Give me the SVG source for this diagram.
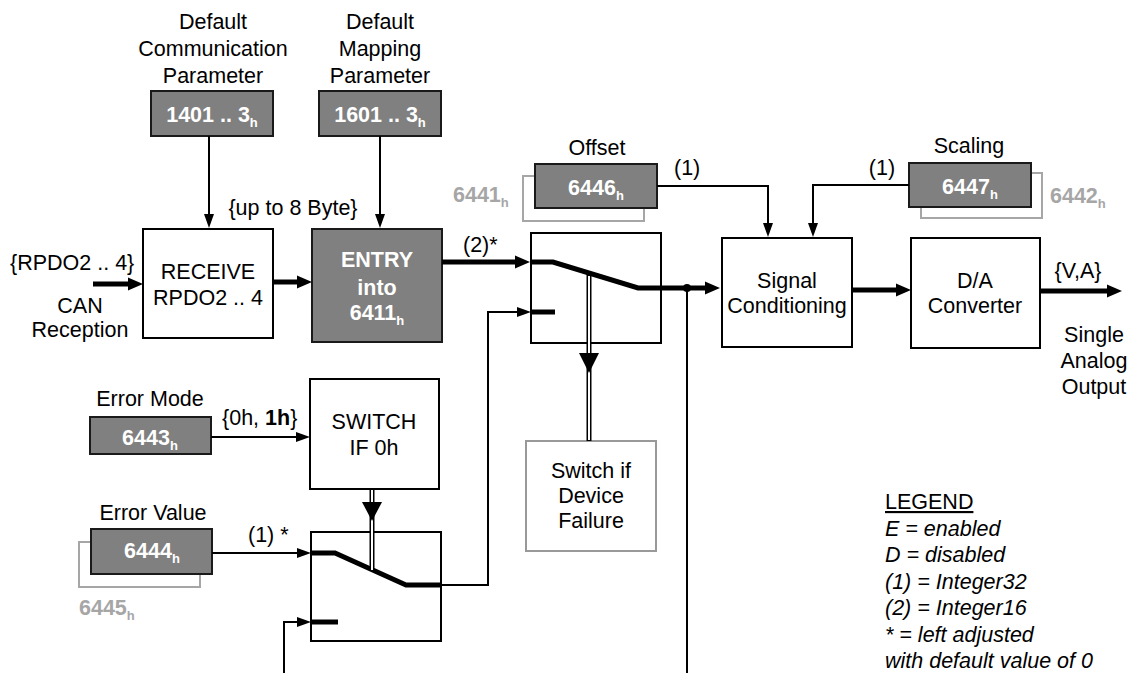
<svg xmlns="http://www.w3.org/2000/svg" width="1131" height="673" viewBox="0 0 1131 673">
<style>
text{font-family:"Liberation Sans",Arial,sans-serif;font-size:21.5px;fill:#000}
.c{text-anchor:middle}
.w{fill:#fff;font-weight:bold}
.g{fill:#a6a6a6;font-weight:bold}
.it{font-style:italic}
.box{fill:#fff;stroke:#000;stroke-width:2}
.gbox{fill:#808080;stroke:#1a1a1a;stroke-width:2}
.sh{fill:#fff;stroke:#a6a6a6;stroke-width:2}
.gr{fill:#fff;stroke:#999;stroke-width:2}
.thin{fill:none;stroke:#000;stroke-width:2}
.thick{fill:none;stroke:#000;stroke-width:5}
.sub{font-size:13px}
</style>
<defs>
<marker id="a" markerUnits="userSpaceOnUse" markerWidth="14" markerHeight="10" refX="0" refY="5" orient="auto" overflow="visible"><path d="M0,0 L14,5 L0,10 z" fill="#000"/></marker>
<marker id="at" markerUnits="userSpaceOnUse" markerWidth="15" markerHeight="13" refX="0" refY="6.5" orient="auto" overflow="visible"><path d="M0,0 L15,6.5 L0,13 z" fill="#000"/></marker>
</defs>

<g id="comm-param">
<text class="c" x="213" y="29">Default</text>
<text class="c" x="213" y="56">Communication</text>
<text class="c" x="213" y="83">Parameter</text>
<rect class="gbox" x="151" y="91" width="122" height="45"/>
<text class="c w" x="212" y="122">1401 .. 3<tspan class="sub" dy="5">h</tspan></text>
</g>

<g id="map-param">
<text class="c" x="380" y="29">Default</text>
<text class="c" x="380" y="56">Mapping</text>
<text class="c" x="380" y="83">Parameter</text>
<rect class="gbox" x="319" y="91" width="122" height="45"/>
<text class="c w" x="380" y="122">1601 .. 3<tspan class="sub" dy="5">h</tspan></text>
</g>

<g id="can-input">
<text x="10" y="270">{RPDO2 .. 4}</text>
<text class="c" x="80" y="313">CAN</text>
<text class="c" x="80" y="337">Reception</text>
</g>

<g id="receive">
<rect class="box" x="143" y="229" width="130" height="109"/>
<text class="c" x="208" y="279">RECEIVE</text>
<text class="c" x="208" y="305">RPDO2 .. 4</text>
</g>

<g id="entry">
<rect class="gbox" x="312" y="229" width="130" height="113"/>
<text class="c w" x="377" y="267">ENTRY</text>
<text class="c w" x="377" y="295">into</text>
<text class="c w" x="377" y="320">6411<tspan class="sub" dy="5">h</tspan></text>
</g>

<g id="offset">
<text class="c" x="597" y="155">Offset</text>
<rect class="sh" x="523" y="176" width="121" height="45"/>
<rect class="gbox" x="535" y="164" width="122" height="44"/>
<text class="c w" x="596" y="195">6446<tspan class="sub" dy="5">h</tspan></text>
<text class="g" x="453" y="202">6441<tspan class="sub" dy="5">h</tspan></text>
</g>

<g id="scaling">
<text class="c" x="969" y="153">Scaling</text>
<rect class="sh" x="921" y="173" width="121" height="45"/>
<rect class="gbox" x="909" y="163" width="122" height="44"/>
<text class="c w" x="970" y="194">6447<tspan class="sub" dy="5">h</tspan></text>
<text class="g" x="1050" y="203">6442<tspan class="sub" dy="5">h</tspan></text>
</g>

<g id="switch1">
<rect class="box" x="531" y="233" width="130" height="110"/>
</g>

<g id="signal-cond">
<rect class="box" x="722" y="238" width="130" height="109"/>
<text class="c" x="787" y="288">Signal</text>
<text class="c" x="787" y="313">Conditioning</text>
</g>

<g id="da-conv">
<rect class="box" x="911" y="238" width="129" height="110"/>
<text class="c" x="975" y="288">D/A</text>
<text class="c" x="975" y="313">Converter</text>
</g>

<g id="output">
<text class="c" x="1078" y="278">{V,A}</text>
<text class="c" x="1094" y="342">Single</text>
<text class="c" x="1094" y="368">Analog</text>
<text class="c" x="1094" y="394">Output</text>
</g>

<g id="error-mode">
<text class="c" x="150" y="406">Error Mode</text>
<rect class="gbox" x="90" y="417" width="121" height="37"/>
<text class="c w" x="150" y="445">6443<tspan class="sub" dy="5">h</tspan></text>
</g>

<g id="switch-if">
<rect class="box" x="310" y="379" width="129" height="110"/>
<text class="c" x="374" y="429">SWITCH</text>
<text class="c" x="374" y="455">IF 0h</text>
</g>

<g id="error-value">
<text class="c" x="153" y="520">Error Value</text>
<rect class="sh" x="79" y="542" width="121" height="45"/>
<rect class="gbox" x="91" y="529" width="121" height="45"/>
<text class="c w" x="152" y="558">6444<tspan class="sub" dy="5">h</tspan></text>
<text class="g" x="79" y="615">6445<tspan class="sub" dy="5">h</tspan></text>
</g>

<g id="switch2">
<rect class="box" x="311" y="532" width="130" height="109"/>
</g>

<g id="device-failure">
<rect class="gr" x="526" y="441" width="130" height="110"/>
<text class="c" x="591" y="478">Switch if</text>
<text class="c" x="591" y="503">Device</text>
<text class="c" x="591" y="528">Failure</text>
</g>

<g id="legend">
<text x="885" y="509" text-decoration="underline">LEGEND</text>
<text class="it" x="885" y="536">E = enabled</text>
<text class="it" x="885" y="562">D = disabled</text>
<text class="it" x="885" y="589">(1) = Integer32</text>
<text class="it" x="885" y="615">(2) = Integer16</text>
<text class="it" x="885" y="642">* = left adjusted</text>
<text class="it" x="885" y="668">with default value of 0</text>
</g>

<g id="connectors">
<path class="thin" d="M209,136 V214" marker-end="url(#a)"/>
<path class="thin" d="M380,136 V214" marker-end="url(#a)"/>
<text class="c" x="293" y="215">{up to 8 Byte}</text>
<path class="thick" d="M93,284 H128" marker-end="url(#at)"/>
<path class="thick" d="M273,282 H297" marker-end="url(#at)"/>
<path class="thick" d="M442,262 H515" marker-end="url(#at)"/>
<text x="463" y="252">(2)*</text>
<path class="thick" d="M531,262 H553 L638,288 H705" marker-end="url(#at)"/>
<path class="thin" d="M687,288 V673"/>
<circle cx="687" cy="288" r="4" fill="#000"/>
<path class="thin" d="M441,585 H488 V312 H517" marker-end="url(#a)"/>
<path class="thick" d="M531,312 H555"/>
<path class="thin" d="M657,186 H768 V223" marker-end="url(#a)"/>
<text x="674" y="175">(1)</text>
<path class="thin" d="M909,185 H813 V223" marker-end="url(#a)"/>
<text class="c" x="882" y="175">(1)</text>
<path class="thick" d="M852,290 H896" marker-end="url(#at)"/>
<path class="thick" d="M1040,291 H1107" marker-end="url(#at)"/>
<path class="thin" d="M211,437 H296" marker-end="url(#a)"/>
<text x="222" y="425">{0h, <tspan font-weight="bold">1h</tspan>}</text>
<path class="thin" d="M212,553 H297" marker-end="url(#a)"/>
<text x="248" y="542">(1) *</text>
<path class="thick" d="M311,553 H335 L406,585 H441"/>
<path class="thin" d="M284,673 V622 H297" marker-end="url(#a)"/>
<path class="thick" d="M311,622 H338"/>
<path d="M372,489 V570" stroke="#000" stroke-width="5" fill="none"/>
<path d="M372,490 V570" stroke="#fff" stroke-width="2" fill="none"/>
<polygon points="362,502 382,502 372,521" fill="#000"/>
<path d="M589,273 V441" stroke="#000" stroke-width="5" fill="none"/>
<path d="M589,276 V440" stroke="#fff" stroke-width="2" fill="none"/>
<polygon points="579,353 599,353 589,373" fill="#000"/>
</g>
</svg>
